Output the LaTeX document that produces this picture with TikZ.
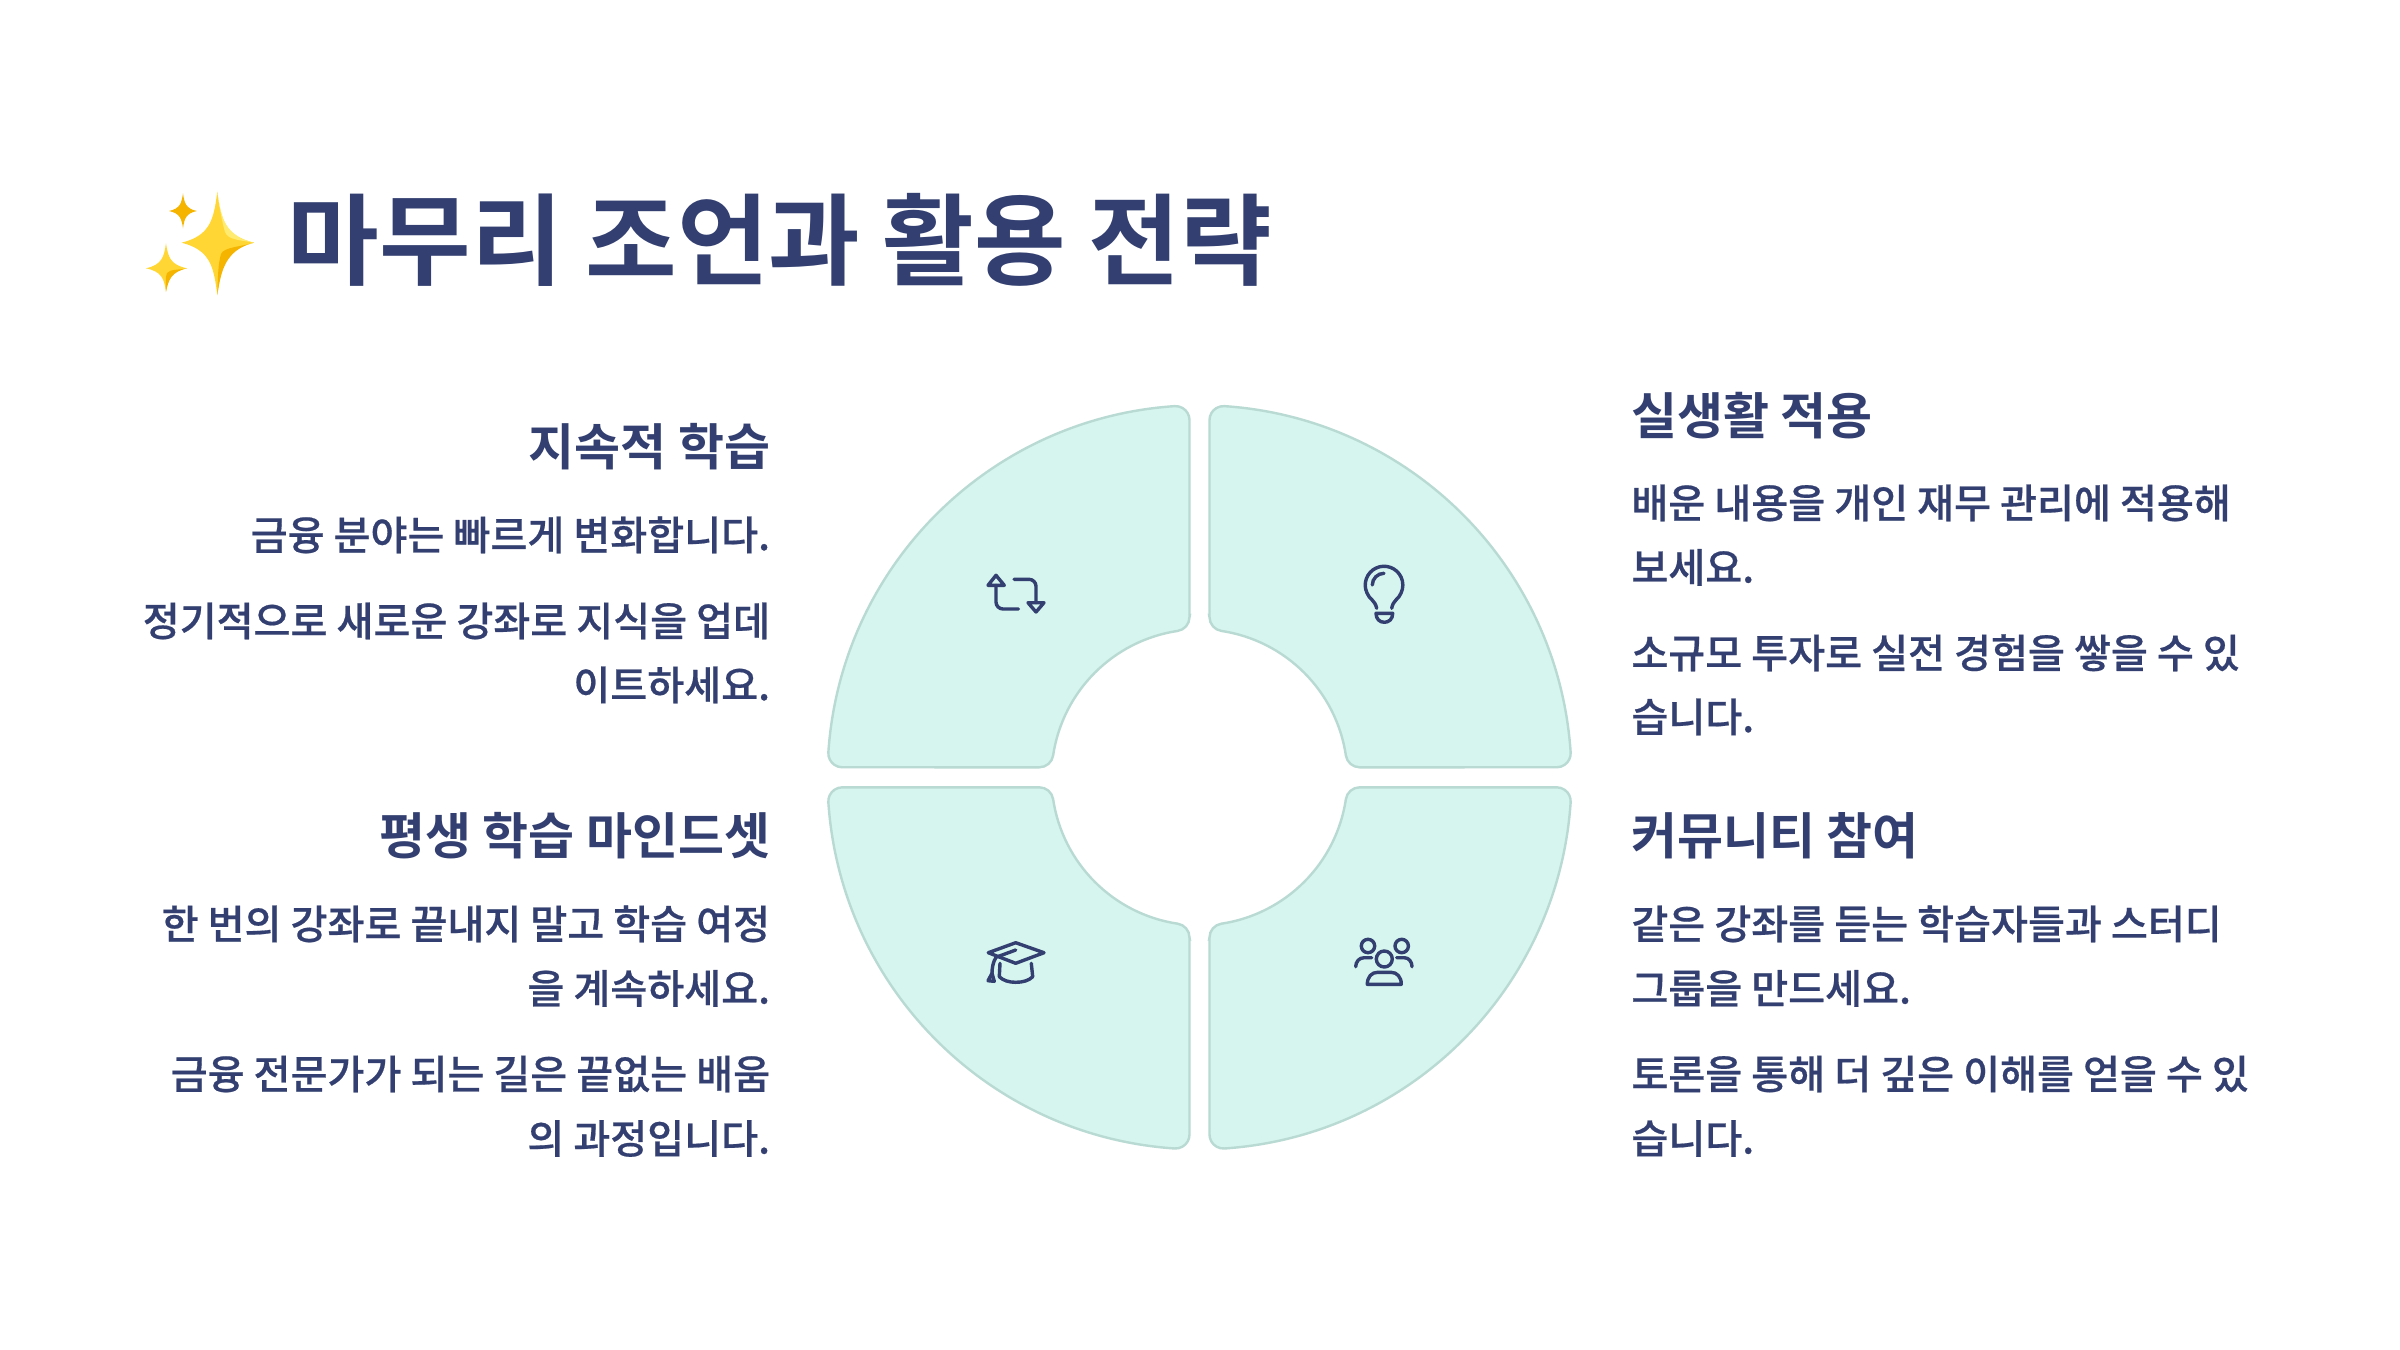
\documentclass[tikz,border=0pt]{standalone}
\usepackage{fontspec}
\setmainfont{Noto Sans CJK KR}[UprightFont=* Medium,BoldFont=* Bold]
\newfontfamily\bodyfont{Noto Sans CJK KR}[UprightFont=* Medium,FakeBold=0.5]
\definecolor{ink}{HTML}{323F70}
\definecolor{petal}{HTML}{D5F5EE}
\definecolor{petaledge}{HTML}{B8DAD2}
\definecolor{sparkA}{HTML}{FFD633}
\definecolor{sparkB}{HTML}{F5B400}
\definecolor{sparkC}{HTML}{FFEB70}
\tikzset{
  petalshape/.style={fill=petal,draw=petaledge,line width=1.2pt},
  icon/.style={draw=ink,line width=1.7pt,line cap=round,line join=round},
  head/.style={font=\fontsize{25}{30}\selectfont\bfseries,text=ink,inner sep=0},
  body/.style={font=\bodyfont\fontsize{20.08}{24}\selectfont,text=ink,inner sep=0},
  rt/.style={body,anchor=base east},
  lt/.style={body,anchor=base west},
  rh/.style={head,anchor=base east},
  lh/.style={head,anchor=base west},
}
\newcommand\petalpath{(10,160.2) -- (10,357.2) arc (180:86.156:14) arc (86.156:3.844:372) arc (3.844:-90:14) -- (160.2,10) arc (-90:-171.48:14) arc (8.52:81.48:148) arc (261.48:180:14) -- cycle}
% star: cx cy left right up down
\newcommand\starpath[6]{(#1,#2-#5) .. controls (#1+.1*#4,#2-.45*#5) and (#1+.2*#4,#2-.14*#5) .. (#1+#4,#2) .. controls (#1+.2*#4,#2+.14*#6) and (#1+.1*#4,#2+.45*#6) .. (#1,#2+#6) .. controls (#1-.1*#3,#2+.45*#6) and (#1-.2*#3,#2+.14*#6) .. (#1-#3,#2) .. controls (#1-.2*#3,#2-.14*#5) and (#1-.1*#3,#2-.45*#5) .. (#1,#2-#5) -- cycle}
\begin{document}
\begin{tikzpicture}[x=0.5pt,y=-0.5pt]
\useasboundingbox (0,0) rectangle (2400,1350);
\fill[white] (0,0) rectangle (2400,1350);
% sparkles
\fill[sparkA] \starpath{217.3}{242.7}{35.7}{36.6}{51}{52.3};
\fill[sparkC] (217.3,191.7) .. controls (221,218) and (224.6,235.4) .. (253.9,242.7) .. controls (240,240) and (228,240) .. (225,232) .. controls (222,222) and (219,205) .. (217.3,191.7) -- cycle;
\fill[sparkB] (253.9,242.7) .. controls (224.6,250) and (221,272) .. (217.3,295) .. controls (218,275) and (218,265) .. (221,254) .. controls (224,247) and (240,247) .. (253.9,242.7) -- cycle;
\fill[sparkB] \starpath{183}{211}{14}{13.8}{17.7}{17.3};
\fill[sparkA] \starpath{166}{268.3}{20.1}{21}{25}{23.4};
\fill[sparkB] (187,268.3) .. controls (171,272) and (168.5,280) .. (166,291.7) .. controls (166,285) and (165,277) .. (167,273) .. controls (170,269) and (180,270) .. (187,268.3) -- cycle;
% title
\node[font=\fontsize{49.8}{56}\selectfont\bfseries,text=ink,inner sep=0,anchor=base west] (title) at (287.5,277.5) {마무리 조언과 활용 전략};
% petals
\begin{scope}[shift={(1199.5,777.3)}]
\draw[petalshape,xscale=-1,yscale=-1] \petalpath;
\draw[petalshape,yscale=-1] \petalpath;
\draw[petalshape,xscale=-1] \petalpath;
\draw[petalshape] \petalpath;
\end{scope}
% icon: repeat
\draw[icon] (996,585.3) -- (996,602) arc (180:90:7) -- (1018.3,609);
\draw[icon] (996,575.3) -- (1004.3,585.3) -- (988,585.3) -- cycle;
\draw[icon] (1014,579.3) -- (1029,579.3) arc (-90:0:7) -- (1036,602.7);
\draw[icon] (1036,612) -- (1044,602.7) -- (1028,602.7) -- cycle;
% icon: bulb
\draw[icon] (1376.7,608.3) .. controls (1375,600) and (1369,599) .. (1367,593) arc (155:385:18.8) .. controls (1399,599) and (1393,600) .. (1391.7,608.3);
\draw[icon] (1372.3,585) arc (180:270:11.7);
\draw[icon] (1376,613.3) -- (1392.7,613.3) .. controls (1392.7,619) and (1389,622.3) .. (1384.3,622.3) .. controls (1379.7,622.3) and (1376,619) .. (1376,613.3) -- cycle;
% icon: cap
\draw[icon] (988.3,952.7) -- (1015.7,942.7) -- (1044,952.7) -- (1015.7,963.3) -- cycle;
\draw[icon] (1015.7,950) -- (996,957.3) .. controls (993,962) and (992,968) .. (992,973.3);
\draw[icon] (992,973.3) -- (988,980.7) -- (994.3,981.3) -- cycle;
\draw[icon] (1000,963.3) -- (999.3,976.7) .. controls (1003,980.5) and (1009,982.3) .. (1015.7,982.3) .. controls (1023,982.3) and (1029,980.5) .. (1032.7,976.7) -- (1031.3,963.3);
% icon: people
\draw[icon] (1368,946) circle (6.7);
\draw[icon] (1401.7,946) circle (6.7);
\draw[icon] (1384.3,959) circle (8);
\draw[icon] (1367.3,984.3) -- (1401.3,984.3) .. controls (1401.3,977) and (1397,972.3) .. (1391,972.3) -- (1377.6,972.3) .. controls (1371.6,972.3) and (1367.3,977) .. (1367.3,984.3) -- cycle;
\draw[icon] (1371.7,957.7) -- (1364,957.7) .. controls (1359,957.7) and (1355.7,962) .. (1355.7,966.7);
\draw[icon] (1396.7,957.7) -- (1404.3,957.7) .. controls (1409,957.7) and (1412,962) .. (1412,966.7);
% left upper
\node[rh] (h1) at (770.5,465.5) {지속적 학습};
\node[rt] (t1a) at (770.5,550) {금융 분야는 빠르게 변화합니다.};
\node[rt] (t1b) at (770.5,636) {정기적으로 새로운 강좌로 지식을 업데};
\node[rt] (t1c) at (770.5,700) {이트하세요.};
% left lower
\node[rh] (h2) at (770.5,854.5) {평생 학습 마인드셋};
\node[rt] (t2a) at (770.5,939) {한 번의 강좌로 끝내지 말고 학습 여정};
\node[rt] (t2b) at (770.5,1003.5) {을 계속하세요.};
\node[rt] (t2c) at (770.5,1089) {금융 전문가가 되는 길은 끝없는 배움};
\node[rt] (t2d) at (770.5,1153.5) {의 과정입니다.};
% right upper
\node[lh] (h3) at (1631,434) {실생활 적용};
\node[lt] (t3a) at (1631,518) {배운 내용을 개인 재무 관리에 적용해};
\node[lt] (t3b) at (1631,582.5) {보세요.};
\node[lt] (t3c) at (1631,668) {소규모 투자로 실전 경험을 쌓을 수 있};
\node[lt] (t3d) at (1631,732) {습니다.};
% right lower
\node[lh] (h4) at (1631,854.5) {커뮤니티 참여};
\node[lt] (t4a) at (1631,939) {같은 강좌를 듣는 학습자들과 스터디};
\node[lt] (t4b) at (1631,1003.5) {그룹을 만드세요.};
\node[lt] (t4c) at (1631,1089) {토론을 통해 더 깊은 이해를 얻을 수 있};
\node[lt] (t4d) at (1631,1153.5) {습니다.};
\end{tikzpicture}
\end{document}
